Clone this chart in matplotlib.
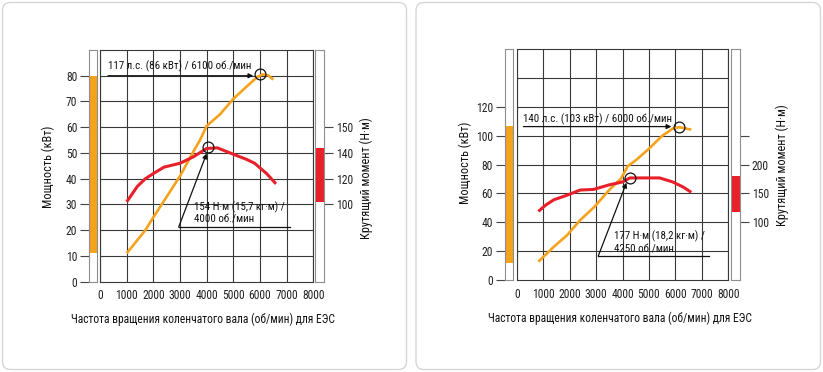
import matplotlib
matplotlib.use('Agg')
import matplotlib.pyplot as plt
from matplotlib.patches import FancyBboxPatch

W, H = 823, 372
plt.rcParams['font.family'] = ['Roboto Condensed', 'DejaVu Sans']

# ---------------- data ----------------
rpm_ticks = [0, 1000, 2000, 3000, 4000, 5000, 6000, 7000, 8000]
rpm_tick_labels = ["0", "1000", "2000", "3000", "4000", "5000", "6000", "7000", "8000"]

# left chart (117 hp)
L_power_rpm = [1000, 1700, 2000, 2500, 3000, 3500, 3750, 4000, 4500, 5000, 5500, 5900, 6100, 6300, 6500]
L_power_kw = [11, 20, 25, 33, 41, 50.5, 55, 60.5, 65, 71, 75.8, 79.5, 80.5, 80.2, 78.5]
L_torque_rpm = [1000, 1400, 1700, 2000, 2400, 3000, 3500, 4000, 4400, 5000, 5500, 5800, 6250, 6600]
L_torque_nm = [102, 114, 120, 124, 129, 132, 137, 143.5, 144, 139, 135, 132, 124, 116]
L_power_ticks = [0, 10, 20, 30, 40, 50, 60, 70, 80]
L_torque_ticks = [100, 120, 140, 160]
L_torque_tick_labels = ["100", "120", "140", "150"]
L_power_band = (11, 80)
L_torque_band = (102, 143.5)
L_power_peak = (6000, 80.5)
L_torque_peak = (4050, 144.5)
L_power_text = "117 л.с. (86 кВт) / 6100 об./мин"
L_torque_text = "154 Н·м (15,7 кг·м) /\n4000 об./мин"

# right chart (140 hp)
R_power_rpm = [820, 1400, 1900, 2400, 2950, 3500, 3950, 4200, 4500, 5000, 5500, 5900, 6150, 6400, 6600]
R_power_kw = [12.7, 23, 31, 41.5, 51, 62.5, 70.5, 79, 83, 91, 100, 105, 106, 105, 104.3]
R_torque_rpm = [820, 1100, 1400, 1900, 2400, 2900, 3500, 4000, 4280, 4800, 5400, 5900, 6300, 6600]
R_torque_nm = [119, 130, 139, 147, 156, 157, 165, 170, 177, 177, 177, 170, 161, 152]
R_power_ticks = [0, 20, 40, 60, 80, 100, 120]
R_torque_ticks = [100, 150, 200, 250]
R_torque_tick_labels = ["100", "150", "200", ""]
R_power_band = (12, 106.5)
R_torque_band = (118, 181)
R_power_peak = (6150, 106)
R_torque_peak = (4280, 177)
R_power_text = "140 л.с. (103 кВт) / 6000 об./мин"
R_torque_text = "177 Н·м (18,2 кг·м) /\n4250 об./мин"

xlabel = "Частота вращения коленчатого вала (об/мин) для ЕЭС"
ylabel_left = "Мощность (кВт)"
ylabel_right = "Крутящий момент (Н·м)"

ORANGE = '#f5a21c'
RED = '#e8202a'
GRID = '#383838'
STRIP = '#8f8f8f'
FS = 8.4
FS_ANN = 7.9
FS_LAB = 8.8

fig = plt.figure(figsize=(W / 100, H / 100), dpi=100)


def rect(x0, y0, x1, y1):
    return [x0 / W, 1 - y1 / H, (x1 - x0) / W, (y1 - y0) / H]


bg = fig.add_axes([0, 0, 1, 1], zorder=-5)
bg.set_xlim(0, W)
bg.set_ylim(H, 0)
bg.axis('off')
for (x0, x1) in [(2.5, 406.5), (416, 820.5)]:
    bg.add_patch(FancyBboxPatch((x0, 2.5), x1 - x0, 367, boxstyle='round,pad=0,rounding_size=8',
                                fc='white', ec='#d6d6d6', lw=1.0))


def panel(cfg):
    px0, py0, px1, py1 = cfg['main']
    pmax = cfg['pmax']
    # torque mapping: T = t0 + (P - p0) * k
    t0, p0, k = cfg['tmap']
    tlim = (t0 - p0 * k, t0 + (pmax - p0) * k)

    ax = fig.add_axes(rect(px0, py0, px1, py1))
    ax.set_xlim(0, 8000)
    ax.set_ylim(0, pmax)
    ax.set_xticks(rpm_ticks)
    ax.set_xticklabels(rpm_tick_labels, fontsize=FS, color='#222222')
    ax.set_yticks(cfg['grid'])
    ax.tick_params(axis='both', length=0, pad=5.5)
    ax.tick_params(axis='y', labelleft=False)
    ax.grid(True, color=GRID, lw=0.8)
    for s in ax.spines.values():
        s.set_color(GRID)
        s.set_linewidth(0.8)
    ax.set_axisbelow(True)

    axT = ax.twinx()
    axT.set_ylim(*tlim)
    axT.axis('off')

    ax.plot(cfg['prpm'], cfg['pkw'], color=ORANGE, lw=1.9, solid_capstyle='butt', zorder=3)
    axT.plot(cfg['trpm'], cfg['tnm'], color=RED, lw=2.2, solid_capstyle='butt', zorder=3)

    ax.plot([cfg['ppeak'][0]], [cfg['ppeak'][1]], marker='o', ms=7.8, mfc='none', mec='#111111', mew=0.9, zorder=5)
    axT.plot([cfg['tpeak'][0]], [cfg['tpeak'][1]], marker='o', ms=7.8, mfc='none', mec='#111111', mew=0.9, zorder=5)

    # power annotation
    (ax0, ay, ax1) = cfg['parrow']
    ax.annotate('', xy=(ax1, ay), xytext=(ax0, ay),
                arrowprops=dict(arrowstyle='-|>', color='#111111', lw=0.9, mutation_scale=7,
                                shrinkA=0, shrinkB=0), zorder=6)
    ax.text(cfg['ptext'][0], cfg['ptext'][1], cfg['ptxt'], fontsize=FS_ANN, va='center', ha='left',
            color='#111111', zorder=6)

    # torque annotation
    (lx0, lx1, ly, tx, ty) = cfg['tarrow']
    ax.plot([lx0, lx1], [ly, ly], color='#111111', lw=0.9, zorder=6)
    ax.annotate('', xy=(tx, ty), xytext=(lx0, ly),
                arrowprops=dict(arrowstyle='-|>', color='#111111', lw=0.9, mutation_scale=7,
                                shrinkA=0, shrinkB=0), zorder=6)
    ax.text(cfg['ttext'][0], cfg['ttext'][1], cfg['ttxt'], fontsize=FS_ANN, va='bottom', ha='left',
            color='#111111', linespacing=1.2, zorder=6)

    # left strip (power scale)
    sx0, sx1 = cfg['lstrip']
    sl = fig.add_axes(rect(sx0, py0, sx1, py1))
    sl.set_xlim(0, 1)
    sl.set_ylim(0, pmax)
    lo, hi = cfg['pband']
    sl.bar([0.5], [hi - lo], bottom=lo, width=1, color=ORANGE, lw=0)
    sl.set_xticks([])
    sl.set_yticks(cfg['pticks'])
    sl.set_yticklabels([str(v) for v in cfg['pticks']], fontsize=FS, color='#222222')
    sl.tick_params(axis='y', length=6.5, width=0.8, color='#444444', pad=2)
    for s in sl.spines.values():
        s.set_color(STRIP)
        s.set_linewidth(0.8)

    # right strip (torque scale)
    rx0, rx1 = cfg['rstrip']
    sr = fig.add_axes(rect(rx0, py0, rx1, py1))
    sr.set_xlim(0, 1)
    sr.set_ylim(*tlim)
    lo, hi = cfg['tband']
    sr.bar([0.5], [hi - lo], bottom=lo, width=1, color=RED, lw=0)
    sr.set_xticks([])
    sr.yaxis.tick_right()
    sr.set_yticks(cfg['tticks'])
    sr.set_yticklabels(cfg['tticklabels'], fontsize=FS, color='#222222')
    sr.tick_params(axis='y', length=6.5, width=0.8, color='#444444', pad=2)
    for s in sr.spines.values():
        s.set_color(STRIP)
        s.set_linewidth(0.8)

    # labels
    lx, ly_ = cfg['ylab_l']
    fig.text(lx / W, 1 - ly_ / H, ylabel_left, rotation=90, fontsize=FS_LAB, ha='center', va='center', color='#111111')
    rx, ry = cfg['ylab_r']
    fig.text(rx / W, 1 - ry / H, ylabel_right, rotation=90, fontsize=FS_LAB, ha='center', va='center', color='#111111')
    xx, xy = cfg['xlab']
    fig.text(xx / W, 1 - xy / H, xlabel, fontsize=8.3, ha='center', va='center', color='#111111')


panel(dict(
    main=(100, 50, 313.3, 281.7), pmax=90, tmap=(100, 30, 2.0),
    grid=[10, 20, 30, 40, 50, 60, 70, 80],
    prpm=L_power_rpm, pkw=L_power_kw, trpm=L_torque_rpm, tnm=L_torque_nm,
    ppeak=L_power_peak, tpeak=L_torque_peak,
    parrow=(300, 80, 5750), ptext=(300, 83.6), ptxt=L_power_text,
    tarrow=(2950, 7140, 21.2, 4000, 49.8), ttext=(3520, 22.3), ttxt=L_torque_text,
    lstrip=(89, 96.7), rstrip=(315, 324),
    pband=L_power_band, tband=L_torque_band,
    pticks=L_power_ticks, tticks=L_torque_ticks, tticklabels=L_torque_tick_labels,
    ylab_l=(48, 167), ylab_r=(366, 178), xlab=(203, 319),
))

panel(dict(
    main=(516.7, 49.3, 728.3, 280), pmax=160, tmap=(100, 40, 2.5),
    grid=[20, 40, 60, 80, 100, 120, 140],
    prpm=R_power_rpm, pkw=R_power_kw, trpm=R_torque_rpm, tnm=R_torque_nm,
    ppeak=R_power_peak, tpeak=R_torque_peak,
    parrow=(250, 106.4, 5850), ptext=(250, 111.8), ptxt=R_power_text,
    tarrow=(3085, 7280, 16.7, 4150, 67.5), ttext=(3680, 18.0), ttxt=R_torque_text,
    lstrip=(504.7, 513.3), rstrip=(731, 740),
    pband=R_power_band, tband=R_torque_band,
    pticks=R_power_ticks, tticks=R_torque_ticks, tticklabels=R_torque_tick_labels,
    ylab_l=(465, 163), ylab_r=(782, 165), xlab=(620, 318),
))

fig.savefig('out.png', dpi=100)
